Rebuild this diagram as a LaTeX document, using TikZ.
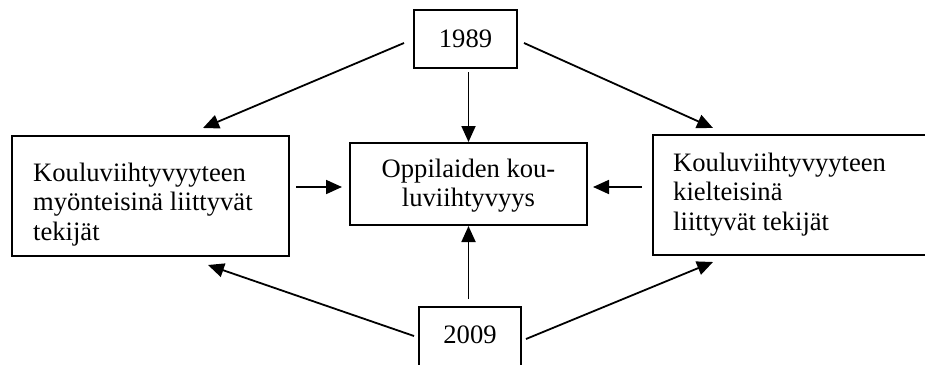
\documentclass[tikz,border=0pt]{standalone}
\usepackage{fontspec}
\setmainfont{Liberation Serif}
\usetikzlibrary{arrows.meta,calc}
\begin{document}
\begin{tikzpicture}[x=1pt,y=-1pt,
  box/.style={draw,line width=2pt,inner sep=0pt,rectangle},
  txt/.style={inner sep=0pt,font=\fontsize{26.6}{29.5}\selectfont},
  arr/.style={line width=1.8pt,-{Triangle[length=16pt,width=14pt]}}]
\clip (0,0) rectangle (925,364);
\fill[white] (0,0) rectangle (925,364);
% boxes
\node[box,txt,minimum width=103,minimum height=58] (T) at (465.5,39) {1989};
\node[box,minimum width=102,minimum height=66] (B) at (470,340) {};
\node[box,minimum width=277,minimum height=120] (L) at (150.5,196) {};
\node[box,minimum width=237,minimum height=82] (C) at (468.5,184) {};
\node[box,minimum width=282,minimum height=120] (R) at (794,195) {};
% texts
\node[txt,anchor=base] (Bt) at (470,343) {2009};
\node[txt,anchor=base west] (Lt) at (33,181) {\parbox[t]{250pt}{\raggedright Kouluviihtyvyyteen\\ myönteisinä liittyvät\\ tekijät}};
\node[txt,anchor=base west] (Rt) at (673,171) {\parbox[t]{240pt}{\raggedright Kouluviihtyvyyteen\\ kielteisinä\\ liittyvät tekijät}};
\node[txt,anchor=base] (Ct) at (468.5,177) {\parbox[t]{230pt}{\centering Oppilaiden kou-\\ luviihtyvyys}};
% arrows
\draw[arr] ($(T.west)+(-9,4)$) -- ($(L.north)+(52.5,-7)$);
\draw[arr] ($(T.east)+(6,4)$) -- ($(R.north)+(-81,-6)$);
\draw[arr] ($(T.south)+(3,3)$) -- (C.north);
\draw[arr] ($(B.north)+(-1.5,-7)$) -- (C.south);
\draw[arr] ($(B.west)+(-4,-4)$) -- ($(L.south)+(57.5,8)$);
\draw[arr] ($(B.east)+(4,-1)$) -- ($(R.south)+(-81,6)$);
\draw[arr] ($(L.east)+(6,-9)$) -- ($(C.west)+(-7,3)$);
\draw[arr] ($(R.west)+(-10,-8)$) -- ($(C.east)+(5,3)$);
\end{tikzpicture}
\end{document}
